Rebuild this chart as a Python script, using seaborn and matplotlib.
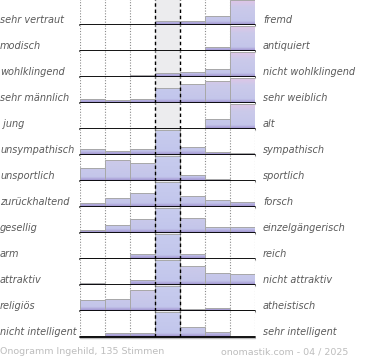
import numpy as np
import pandas as pd
import matplotlib
matplotlib.use("Agg")
import matplotlib.pyplot as plt
from matplotlib.colors import LinearSegmentedColormap
import seaborn as sns

# Gegensatzpaare (links / rechts)
left_labels = ["sehr vertraut", "modisch", "wohlklingend", "sehr männlich", " jung",
               "unsympathisch", "unsportlich", "zurückhaltend", "gesellig", "arm",
               "attraktiv", "religiös", "nicht intelligent"]
right_labels = ["fremd", "antiquiert", "nicht wohlklingend", "sehr weiblich", "alt",
                "sympathisch", "sportlich", "forsch", "einzelgängerisch", "reich",
                "nicht attraktiv", "atheistisch", "sehr intelligent"]

# Anteil der Stimmen je Stufe (relativ zum Maximum der Zeile)
scale_steps = [1, 2, 3, 4, 5, 6, 7]
votes = [
    [0.00, 0.01, 0.01, 0.16, 0.17, 0.36, 1.00],
    [0.00, 0.00, 0.00, 0.00, 0.04, 0.16, 1.00],
    [0.00, 0.00, 0.08, 0.16, 0.20, 0.31, 1.00],
    [0.16, 0.12, 0.16, 0.59, 0.75, 0.88, 1.00],
    [0.00, 0.00, 0.00, 0.00, 0.01, 0.41, 1.00],
    [0.23, 0.14, 0.22, 1.00, 0.33, 0.13, 0.09],
    [0.50, 0.85, 0.73, 1.00, 0.22, 0.06, 0.00],
    [0.17, 0.36, 0.56, 1.00, 0.45, 0.28, 0.21],
    [0.13, 0.33, 0.55, 1.00, 0.60, 0.22, 0.22],
    [0.02, 0.02, 0.18, 1.00, 0.19, 0.01, 0.01],
    [0.06, 0.00, 0.21, 1.00, 0.76, 0.49, 0.45],
    [0.45, 0.47, 0.83, 1.00, 0.09, 0.13, 0.05],
    [0.05, 0.14, 0.17, 1.00, 0.40, 0.18, 0.00],
]
footer_left = "Onogramm Ingehild, 135 Stimmen"
footer_right = "onomastik.com - 04 / 2025"

sns.set_style("white")
plt.rcParams['font.family'] = ['DejaVu Sans']

cmap_side = LinearSegmentedColormap.from_list(
    "side", [(0, "#9c90cc"), (0.07, "#aea6da"), (0.15, "#c4c6ea"),
             (0.70, "#cbcaea"), (1, "#e3c4e6")])
cmap_mid = LinearSegmentedColormap.from_list(
    "mid", [(0, "#9c90cc"), (0.07, "#aea6da"), (0.15, "#c2c6ec"), (1, "#c8ccee")])
grad = np.linspace(0, 1, 64).reshape(-1, 1)

YMAX = 1.04
fig, axes = plt.subplots(len(votes), 1, figsize=(3.7, 3.6), dpi=100,
                         gridspec_kw=dict(hspace=0))
fig.subplots_adjust(left=80 / 370, right=255 / 370, top=361 / 360, bottom=23 / 360)

for i, ax in enumerate(axes):
    df = pd.DataFrame({"step": [str(s) for s in scale_steps], "value": votes[i]})
    sns.barplot(data=df, x="step", y="value", ax=ax, width=1, color="#c6c8ea",
                edgecolor="#a8a8a8", linewidth=0.7, zorder=1)

    # Verlauf in den Balken
    for j, patch in enumerate(ax.patches):
        patch.set_facecolor("none")
        x0 = patch.get_x()
        cmap = cmap_mid if j == 3 else cmap_side
        im = ax.imshow(grad, extent=(x0, x0 + 1, 0, YMAX), origin="lower",
                       aspect="auto", cmap=cmap, vmin=0, vmax=1, zorder=0.9)
        im.set_clip_path(patch)

    ax.axvspan(2.5, 3.5, color="#ececee", zorder=0.2, lw=0)
    for xv in [-0.5, 0.5, 1.5, 4.5, 5.5, 6.5]:
        ax.axvline(xv, color="#8a8a8a", ls=(0, (1, 1.5)), lw=0.8, zorder=0.5)
    for xv in [2.5, 3.5]:
        ax.axvline(xv, color="black", ls=(0, (2.5, 2)), lw=1.0, zorder=3)
    ax.axhline(-0.035, color="#bbbbbb", lw=1.0, zorder=3.5, clip_on=False)
    ax.axhline(0, color="black", lw=1.3, zorder=4, clip_on=False)

    ax.set_xlim(-0.5, 6.5)
    ax.set_ylim(0, YMAX)
    ax.set_xticks([])
    ax.set_yticks([])
    ax.set_xlabel("")
    ax.set_ylabel("")
    for s in ax.spines.values():
        s.set_visible(False)

    ax.text(-80 / 175, 0.2, left_labels[i], transform=ax.transAxes, ha="left",
            va="center", fontsize=7, style="italic", color="#5a5a5a")
    ax.text(1 + 8 / 175, 0.2, right_labels[i], transform=ax.transAxes, ha="left",
            va="center", fontsize=7, style="italic", color="#5a5a5a")

fig.text(0 / 370, 1 - 352 / 360, footer_left, ha="left", va="center",
         fontsize=6.8, color="#bdbdbd")
fig.text(348 / 370, 1 - 352 / 360, footer_right, ha="right", va="center",
         fontsize=6.8, color="#bdbdbd")

fig.savefig("out.png", dpi=100)
